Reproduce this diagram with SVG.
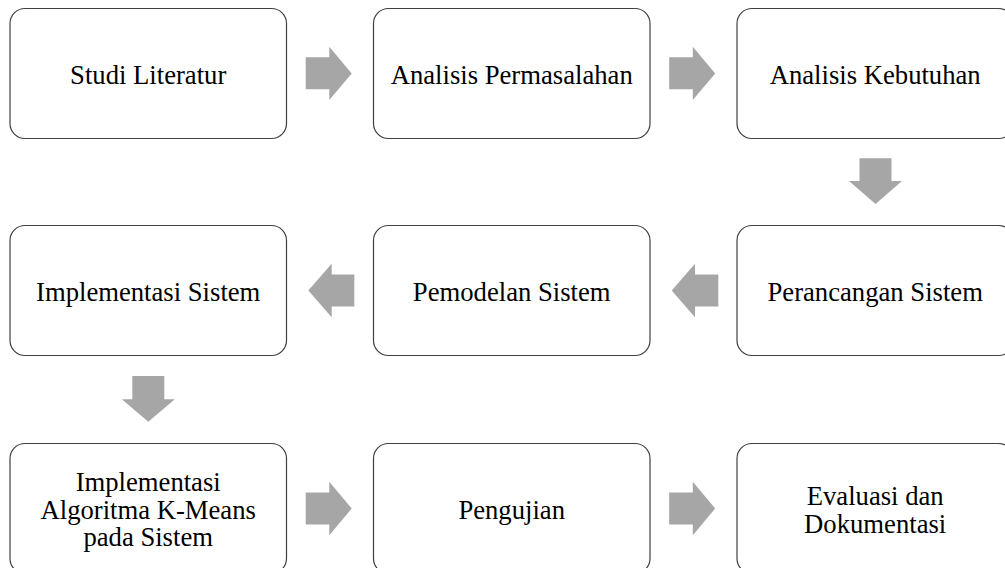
<svg xmlns="http://www.w3.org/2000/svg" width="1005" height="568" viewBox="0 0 1005 568">
<style>
.box{fill:#fff;stroke:#404040;stroke-width:1.2}
.arr{fill:#a6a6a6;stroke:none}
.t{font-size:26.67px;fill:#000;text-anchor:middle}
</style>
<rect width="1005" height="568" fill="#fff"/>
<g id="connectors">
<polygon class="arr" points="305.7,57.3 329.3,57.3 329.3,46.7 351.7,73.4 329.3,100 329.3,89.3 305.7,89.3"/>
<polygon class="arr" points="669.2,57.3 692.8,57.3 692.8,46.7 715.2,73.4 692.8,100 692.8,89.3 669.2,89.3"/>
<polygon class="arr" points="859.5,158.3 891.5,158.3 891.5,181 902,181 875.5,204 849,181 859.5,181"/>
<polygon class="arr" points="718.3,274.5 695,274.5 695,263.8 671.7,290.5 695,317.2 695,306.5 718.3,306.5"/>
<polygon class="arr" points="354.3,274.5 331.7,274.5 331.7,263.8 308.3,290.5 331.7,317.2 331.7,306.5 354.3,306.5"/>
<polygon class="arr" points="132.3,376 164.3,376 164.3,399.3 174.8,399.3 148.3,421.7 121.8,399.3 132.3,399.3"/>
<polygon class="arr" points="305.7,492.5 329.3,492.5 329.3,481.8 351.7,508.5 329.3,535.2 329.3,524.5 305.7,524.5"/>
<polygon class="arr" points="669.2,492.5 692.8,492.5 692.8,481.8 715.2,508.5 692.8,535.2 692.8,524.5 669.2,524.5"/>
</g>
<g font-family="'Liberation Serif', 'Times New Roman', 'DejaVu Serif', serif">
<g id="n1"><rect class="box" x="10" y="8.5" width="276.5" height="130" rx="15"/><text class="t" x="148.2" y="84">Studi Literatur</text></g>
<g id="n2"><rect class="box" x="373.5" y="8.5" width="276.5" height="130" rx="15"/><text class="t" x="511.7" y="84">Analisis Permasalahan</text></g>
<g id="n3"><rect class="box" x="737" y="8.5" width="276.5" height="130" rx="15"/><text class="t" x="875.2" y="84">Analisis Kebutuhan</text></g>
<g id="n4"><rect class="box" x="737" y="225.5" width="276.5" height="130" rx="15"/><text class="t" x="875.2" y="301">Perancangan Sistem</text></g>
<g id="n5"><rect class="box" x="373.5" y="225.5" width="276.5" height="130" rx="15"/><text class="t" x="511.7" y="301">Pemodelan Sistem</text></g>
<g id="n6"><rect class="box" x="10" y="225.5" width="276.5" height="130" rx="15"/><text class="t" x="148.2" y="301">Implementasi Sistem</text></g>
<g id="n7"><rect class="box" x="10" y="443.5" width="276.5" height="130" rx="15"/><text class="t" x="148.2" y="491">Implementasi</text><text class="t" x="148.2" y="518.5">Algoritma K-Means</text><text class="t" x="148.2" y="546">pada Sistem</text></g>
<g id="n8"><rect class="box" x="373.5" y="443.5" width="276.5" height="130" rx="15"/><text class="t" x="511.7" y="519">Pengujian</text></g>
<g id="n9"><rect class="box" x="737" y="443.5" width="276.5" height="130" rx="15"/><text class="t" x="875.2" y="505">Evaluasi dan</text><text class="t" x="875.2" y="532.5">Dokumentasi</text></g>
</g>
</svg>
